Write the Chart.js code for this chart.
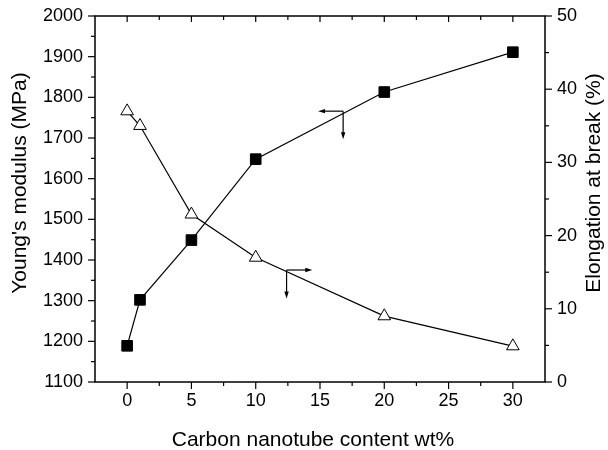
<!DOCTYPE html>
<html>
<head>
<meta charset="utf-8">
<script src="https://cdn.jsdelivr.net/npm/chart.js@4.4.0/dist/chart.umd.min.js"></script>
<style>
  html, body { margin: 0; padding: 0; background: #fff; }
</style>
</head>
<body>
<canvas id="chart" width="608" height="450"></canvas>
<script>
const content = [0, 1, 5, 10, 20, 30]
const modulus = [1189, 1302, 1449, 1648, 1813, 1911]
const elongation = [37, 35, 22.9, 17, 9, 4.9]

const xTicks = [0, 5, 10, 15, 20, 25, 30]
const xMinor = [2.5, 7.5, 12.5, 17.5, 22.5, 27.5]
const modTicks = [1100, 1200, 1300, 1400, 1500, 1600, 1700, 1800, 1900, 2000]
const modMinor = [1150, 1250, 1350, 1450, 1550, 1650, 1750, 1850, 1950]
const elongTicks = [0, 10, 20, 30, 40, 50]
const elongMinor = [5, 15, 25, 35, 45]

// arrows: corner x, corner y, end x of horizontal arm, end y of vertical arm
const modArrow = [16.8, 1766, 14.85, 1697]
const elongArrow = [12.4, 15.3, 14.4, 11.4]

const xTitle = 'Carbon nanotube content wt%'
const modTitle = "Young's modulus (MPa)"
const elongTitle = 'Elongation at break (%)'

const family = "'Liberation Sans', Arial, sans-serif"

function arrow(ctx, x1, y1, x2, y2) {
  const ang = Math.atan2(y2 - y1, x2 - x1)
  ctx.beginPath()
  ctx.moveTo(x1, y1)
  ctx.lineTo(x2 - Math.cos(ang) * 4, y2 - Math.sin(ang) * 4)
  ctx.stroke()
  ctx.beginPath()
  ctx.moveTo(x2, y2)
  ctx.lineTo(x2 - Math.cos(ang) * 7 - Math.sin(ang) * 2.2, y2 - Math.sin(ang) * 7 + Math.cos(ang) * 2.2)
  ctx.lineTo(x2 - Math.cos(ang) * 7 + Math.sin(ang) * 2.2, y2 - Math.sin(ang) * 7 - Math.cos(ang) * 2.2)
  ctx.closePath()
  ctx.fill()
}

const frame = {
  id: 'frame',
  afterDraw(chart) {
    const { ctx, chartArea: a, scales } = chart
    ctx.save()
    ctx.strokeStyle = '#000'
    ctx.fillStyle = '#000'
    ctx.lineWidth = 1.5
    ctx.strokeRect(a.left, a.top, a.right - a.left, a.bottom - a.top)

    ctx.lineWidth = 1.2
    const tick = (x1, y1, x2, y2) => {
      ctx.beginPath()
      ctx.moveTo(x1, y1)
      ctx.lineTo(x2, y2)
      ctx.stroke()
    }
    xTicks.forEach(v => {
      const p = scales.x.getPixelForValue(v)
      tick(p, a.bottom, p, a.bottom + 7)
      tick(p, a.top, p, a.top + 6)
    })
    xMinor.forEach(v => {
      const p = scales.x.getPixelForValue(v)
      tick(p, a.bottom, p, a.bottom + 4)
      tick(p, a.top, p, a.top + 4)
    })
    modTicks.forEach(v => {
      const p = scales.y.getPixelForValue(v)
      tick(a.left - 7, p, a.left, p)
    })
    modMinor.forEach(v => {
      const p = scales.y.getPixelForValue(v)
      tick(a.left - 4, p, a.left, p)
    })
    elongTicks.forEach(v => {
      const p = scales.y1.getPixelForValue(v)
      tick(a.right, p, a.right + 7, p)
    })
    elongMinor.forEach(v => {
      const p = scales.y1.getPixelForValue(v)
      tick(a.right, p, a.right + 4, p)
    })

    // arrows telling which axis each curve belongs to
    const mx = scales.x.getPixelForValue(modArrow[0])
    const my = scales.y.getPixelForValue(modArrow[1])
    arrow(ctx, mx, my, scales.x.getPixelForValue(modArrow[2]), my)
    arrow(ctx, mx, my, mx, scales.y.getPixelForValue(modArrow[3]))
    const ex = scales.x.getPixelForValue(elongArrow[0])
    const ey = scales.y1.getPixelForValue(elongArrow[1])
    arrow(ctx, ex, ey, scales.x.getPixelForValue(elongArrow[2]), ey)
    arrow(ctx, ex, ey, ex, scales.y1.getPixelForValue(elongArrow[3]))

    // axis titles
    ctx.font = '21px ' + family
    ctx.textAlign = 'center'
    ctx.textBaseline = 'alphabetic'
    ctx.fillText(xTitle, (a.left + a.right) / 2 - 7, 446)
    ctx.save()
    ctx.translate(26, (a.top + a.bottom) / 2 - 16)
    ctx.rotate(-Math.PI / 2)
    ctx.fillText(modTitle, 0, 0)
    ctx.restore()
    ctx.save()
    ctx.translate(600, (a.top + a.bottom) / 2 - 16)
    ctx.rotate(-Math.PI / 2)
    ctx.fillText(elongTitle, 0, 0)
    ctx.restore()
    ctx.restore()
  }
}

const tickFont = { family: family, size: 18 }
const plain = v => String(v)

new Chart(document.getElementById('chart'), {
  type: 'scatter',
  data: {
    datasets: [{
      label: 'Modulus',
      data: content.map((x, i) => ({ x: x, y: modulus[i] })),
      yAxisID: 'y',
      showLine: true,
      borderColor: '#000',
      borderWidth: 1.2,
      pointStyle: 'rect',
      pointRadius: 7.5,
      pointHoverRadius: 7.5,
      pointBackgroundColor: '#000',
      pointBorderColor: '#000',
      pointBorderWidth: 1
    }, {
      label: 'Elongation',
      data: content.map((x, i) => ({ x: x, y: elongation[i] })),
      yAxisID: 'y1',
      showLine: true,
      borderColor: '#000',
      borderWidth: 1.2,
      pointStyle: 'triangle',
      pointRadius: 7.3,
      pointHoverRadius: 7.3,
      pointBackgroundColor: '#fff',
      pointBorderColor: '#000',
      pointBorderWidth: 1
    }]
  },
  options: {
    responsive: false,
    animation: false,
    layout: { padding: { top: 16, left: 0, right: 0, bottom: 0 } },
    plugins: {
      legend: { display: false },
      tooltip: { enabled: false }
    },
    scales: {
      x: {
        type: 'linear',
        position: 'bottom',
        min: -2.5,
        max: 32.5,
        grid: { display: false, drawTicks: false },
        border: { display: false },
        ticks: { color: '#000', font: tickFont, padding: 8, autoSkip: false, maxRotation: 0, callback: plain },
        afterBuildTicks: s => { s.ticks = xTicks.map(v => ({ value: v })) },
        afterFit: s => { s.height = 68; s.paddingLeft = 0; s.paddingRight = 0 }
      },
      y: {
        type: 'linear',
        position: 'left',
        min: 1100,
        max: 2000,
        grid: { display: false, drawTicks: false },
        border: { display: false },
        ticks: { color: '#000', font: tickFont, padding: 12, autoSkip: false, callback: plain },
        afterBuildTicks: s => { s.ticks = modTicks.map(v => ({ value: v })) },
        afterFit: s => { s.width = 95; s.paddingTop = 0; s.paddingBottom = 0 }
      },
      y1: {
        type: 'linear',
        position: 'right',
        min: 0,
        max: 50,
        grid: { display: false, drawTicks: false },
        border: { display: false },
        ticks: { color: '#000', font: tickFont, padding: 12, autoSkip: false, callback: plain },
        afterBuildTicks: s => { s.ticks = elongTicks.map(v => ({ value: v })) },
        afterFit: s => { s.width = 63; s.paddingTop = 0; s.paddingBottom = 0 }
      }
    }
  },
  plugins: [frame]
})
</script>
</body>
</html>
